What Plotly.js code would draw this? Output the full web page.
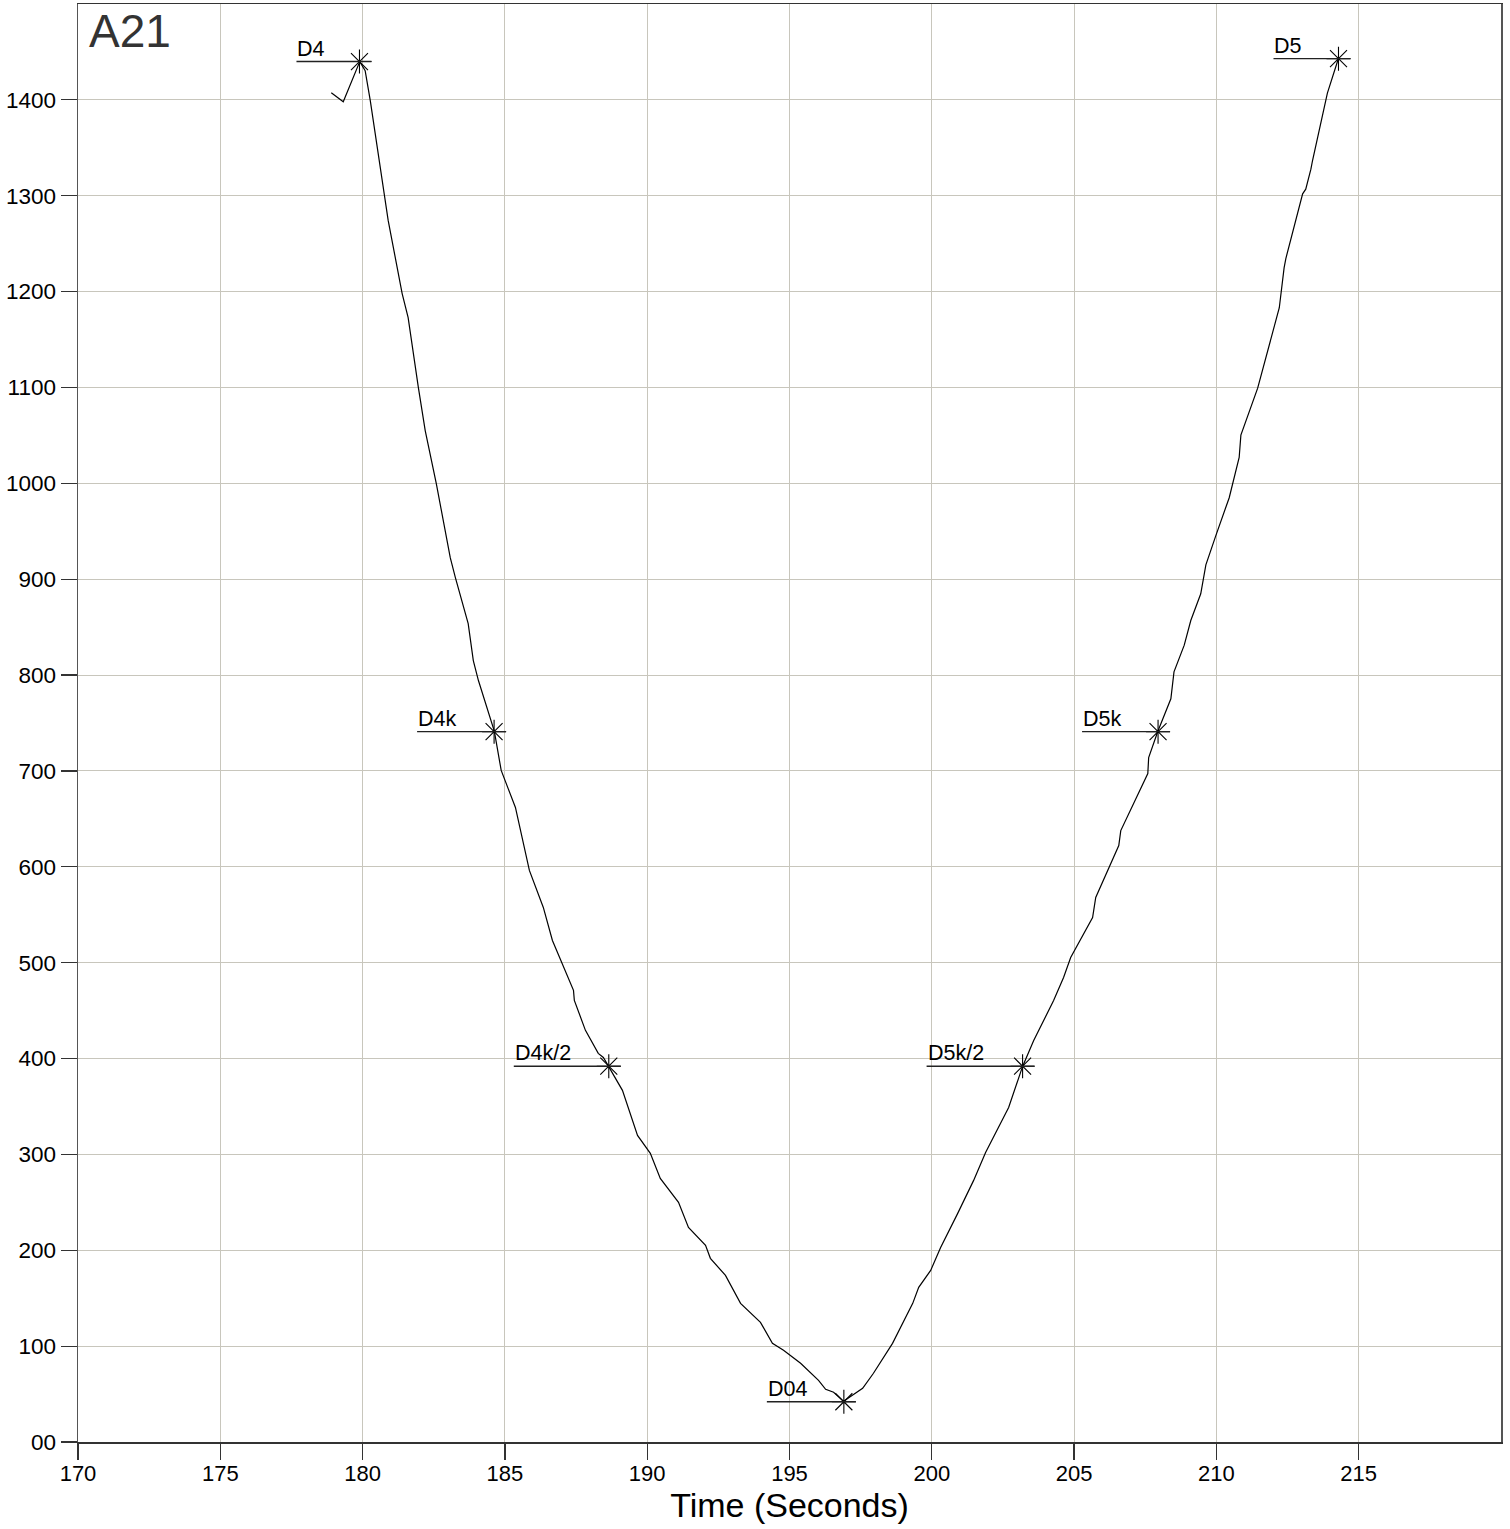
<!DOCTYPE html>
<html>
<head>
<meta charset="utf-8">
<script src="https://cdn.plot.ly/plotly-3.0.1.min.js"></script>
<style>html,body{margin:0;padding:0;background:#fff;}#chart{width:1510px;height:1529px;}</style>
</head>
<body>
<div id="chart"></div>
<script>
// Curve samples: time (s) and value
var timeSec = [178.90, 179.32, 179.90, 180.09, 180.27, 180.90, 181.39, 181.60, 181.96, 182.20,
  182.59, 183.08, 183.26, 183.71, 183.89, 184.07, 184.63, 184.87, 185.37, 185.86,
  186.35, 186.67, 187.41, 187.44, 187.83, 188.28, 188.46, 188.64, 189.13, 189.66,
  190.11, 190.46, 191.10, 191.45, 192.05, 192.22, 192.75, 193.28, 193.98, 194.40,
  194.79, 195.39, 196.02, 196.27, 196.55, 196.90, 197.22, 197.57, 197.95, 198.20,
  198.62, 199.33, 199.54, 199.96, 200.31, 200.91, 201.47, 201.89, 202.70, 203.19,
  203.58, 204.28, 204.63, 204.88, 205.65, 205.76, 206.22, 206.57, 206.64, 207.59,
  207.62, 207.94, 208.40, 208.51, 208.87, 209.10, 209.45, 209.63, 209.98, 210.45,
  210.80, 210.86, 211.45, 212.21, 212.38, 212.44, 213.03, 213.14, 213.32, 213.38,
  213.90, 214.29];
var values = [1407.5, 1398.1, 1439.9, 1430.5, 1399.2, 1274.0, 1197.9, 1172.8, 1099.8, 1055.0,
  999.7, 922.5, 901.7, 853.7, 815.1, 794.3, 741.2, 700.5, 661.9, 596.2,
  557.6, 523.2, 471.1, 460.6, 429.4, 405.4, 401.1, 391.8, 366.8, 319.8,
  301.1, 275.0, 250.0, 223.9, 205.1, 191.6, 173.8, 144.6, 124.8, 102.9,
  95.6, 82.1, 64.3, 55.0, 51.9, 42.4, 48.7, 56.0, 71.7, 83.1,
  102.9, 144.6, 161.3, 179.0, 203.0, 238.5, 272.9, 302.1, 349.0, 391.8,
  418.8, 460.5, 484.6, 505.4, 547.1, 568.0, 598.2, 622.2, 637.8, 697.3,
  714.0, 741.2, 775.3, 803.3, 831.2, 856.9, 884.8, 915.0, 945.5, 985.0,
  1027.0, 1050.3, 1099.3, 1183.2, 1225.0, 1234.5, 1302.0, 1306.8, 1327.7, 1337.0,
  1407.0, 1443.4];

// Marked points
var markNames = ["D4", "D4k", "D4k/2", "D04", "D5k/2", "D5k", "D5"];
var markX = [179.89, 184.62, 188.65, 196.91, 203.19, 207.95, 214.29];
var markY = [1440, 741, 392, 42, 392, 741, 1443];

// Axis ticks
var xTickVals = [170, 175, 180, 185, 190, 195, 200, 205, 210, 215];
var yTickVals = [0, 100, 200, 300, 400, 500, 600, 700, 800, 900, 1000, 1100, 1200, 1300, 1400];
var yTickText = ["00", "100", "200", "300", "400", "500", "600", "700", "800", "900", "1000", "1100", "1200", "1300", "1400"];

var chartLabel = "A21";
var xTitle = "Time (Seconds)";

// style: pixel length of the leader line to the left of each marker
var leaderLeftPx = [63, 77, 95, 77, 96, 76, 65];

var FONT = "'Liberation Sans', Arial, sans-serif";

var traces = [
  {x: timeSec, y: values, mode: "lines", type: "scatter",
   line: {color: "#000", width: 1.2}, hoverinfo: "skip", showlegend: false},
  {x: markX, y: markY, mode: "markers", type: "scatter",
   marker: {symbol: "asterisk-open", size: 20, color: "#000", line: {color: "#000", width: 1.1}},
   hoverinfo: "skip", showlegend: false}
];

var shapes = [];
var annotations = [];
for (var i = 0; i < markNames.length; i++) {
  shapes.push({type: "line", xref: "x", yref: "y", xsizemode: "pixel", xanchor: markX[i],
    x0: -leaderLeftPx[i], x1: 12, y0: markY[i], y1: markY[i],
    line: {color: "#222", width: 1.4}});
  annotations.push({text: markNames[i], x: markX[i], y: markY[i], xref: "x", yref: "y",
    xanchor: "left", yanchor: "bottom", xshift: -leaderLeftPx[i] - 1, yshift: -1,
    showarrow: false, font: {family: FONT, size: 21.5, color: "#000"}});
}
annotations.push({text: chartLabel, xref: "paper", yref: "paper", x: 0.0065, y: 1,
  xanchor: "left", yanchor: "top", yshift: 1, showarrow: false,
  font: {family: FONT, size: 46, color: "#333"}});

var layout = {
  width: 1510, height: 1529,
  margin: {l: 78, r: 9, t: 4, b: 87, pad: 0},
  paper_bgcolor: "#fff", plot_bgcolor: "#fff",
  font: {family: FONT, size: 22, color: "#000"},
  showlegend: false,
  xaxis: {range: [170, 220], tickvals: xTickVals, ticks: "outside", ticklen: 16, tickcolor: "#333",
    tickwidth: 1.2, showgrid: true, gridcolor: "#c8c6bc", gridwidth: 1, zeroline: false,
    showline: true, linecolor: "#333", linewidth: 1.5, mirror: true, ticklabelstandoff: -5,
    tickfont: {family: FONT, size: 22, color: "#000"},
    title: {text: xTitle, font: {family: FONT, size: 34, color: "#000"}, standoff: 6}},
  yaxis: {range: [0, 1500], tickvals: yTickVals, ticktext: yTickText, ticks: "outside", ticklen: 16,
    tickcolor: "#333", tickwidth: 1.2, showgrid: true, gridcolor: "#c8c6bc", gridwidth: 1,
    zeroline: false, showline: true, linecolor: "#555", linewidth: 1.5, mirror: true,
    tickfont: {family: FONT, size: 22.5, color: "#000"}},
  shapes: shapes,
  annotations: annotations
};

Plotly.newPlot("chart", traces, layout, {staticPlot: true, displayModeBar: false});
</script>
</body>
</html>
